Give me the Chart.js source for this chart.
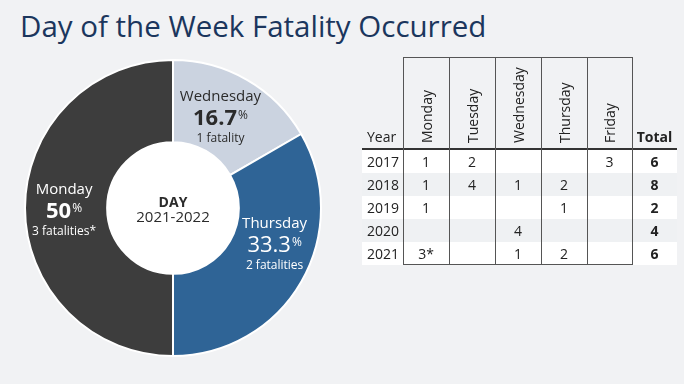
<!DOCTYPE html>
<html><head><meta charset="utf-8">
<script src="https://cdn.jsdelivr.net/npm/chart.js@4.4.1/dist/chart.umd.min.js"></script>
<style>
html,body{margin:0;padding:0;background:#f1f2f4;width:684px;height:384px;overflow:hidden;font-family:'Open Sans',sans-serif;}
#title{position:absolute;left:20px;top:11.5px;margin:0;font-size:29.5px;line-height:28px;font-weight:400;color:#1b365d;white-space:nowrap;}
#pie{position:absolute;left:24px;top:59px;}
#tbl{position:absolute;left:0;top:0;width:684px;height:384px;font-size:14px;color:#222;}
#tbl div{position:absolute;box-sizing:border-box;}
.rot{writing-mode:vertical-rl;transform:rotate(180deg);text-align:start;line-height:20px;white-space:nowrap;}
.cell{line-height:23px;height:23px;white-space:nowrap;}
</style></head>
<body>
<h1 id="title">Day of the Week Fatality Occurred</h1>
<canvas id="pie" width="298" height="298"></canvas>
<div id="tbl"></div>
<script>
// ---- doughnut data ----
const sliceDays = ['Wednesday', 'Thursday', 'Monday'];
const sliceFatalities = [1, 2, 3];
const sliceCountText = ['1 fatality', '2 fatalities', '3 fatalities*'];
const centerTitle = 'DAY';
const centerSub = '2021-2022';

// ---- table data ----
const tableYears = ['2017', '2018', '2019', '2020', '2021'];
const tableDays = ['Monday', 'Tuesday', 'Wednesday', 'Thursday', 'Friday'];
const tableValues = [
  ['1', '2', '', '', '3'],
  ['1', '4', '1', '2', ''],
  ['1', '', '', '1', ''],
  ['', '', '4', '', ''],
  ['3*', '', '1', '2', '']
];
const tableTotals = ['6', '8', '2', '4', '6'];

// ---- styles ----
const sliceColors = ['#cbd3e0', '#2f6496', '#3d3d3d'];
const sliceTextColors = ['#2b2b2b', '#ffffff', '#ffffff'];
const slicePctWeights = ['700', '400', '700'];
const sliceNudge = [[-6, 10], [9, -9], [-2, 10]];

const total = sliceFatalities.reduce((a, b) => a + b, 0);
function pctText(v) {
  let s = (v / total * 100).toFixed(1);
  if (s.endsWith('.0')) s = s.slice(0, -2);
  return s;
}

const centerPlugin = {
  id: 'centerDisc',
  beforeDatasetsDraw(chart) {
    const arc = chart.getDatasetMeta(0).data[0];
    if (!arc) return;
    const c = chart.ctx;
    c.save();
    c.beginPath();
    c.arc(arc.x, arc.y, arc.innerRadius, 0, Math.PI * 2);
    c.fillStyle = '#ffffff';
    c.fill();
    c.restore();
  },
  afterDatasetsDraw(chart) {
    const meta = chart.getDatasetMeta(0);
    const arc0 = meta.data[0];
    const c = chart.ctx;
    c.save();
    c.textAlign = 'center';
    c.textBaseline = 'alphabetic';
    c.fillStyle = '#2b2b2b';
    c.font = "700 14px 'Open Sans'";
    c.fillText(centerTitle, arc0.x, arc0.y - 1);
    c.font = "400 15px 'Open Sans'";
    c.fillText(centerSub, arc0.x, arc0.y + 14);

    meta.data.forEach((arc, i) => {
      const p = arc.getCenterPoint();
      const ax = p.x + sliceNudge[i][0];
      const ay = p.y + sliceNudge[i][1];
      c.fillStyle = sliceTextColors[i];
      c.textAlign = 'center';
      c.font = "400 15px 'Open Sans'";
      c.fillText(sliceDays[i], ax, ay - 24.5);
      const num = pctText(sliceFatalities[i]);
      c.font = slicePctWeights[i] + " 22px 'Open Sans'";
      const nw = c.measureText(num).width;
      c.font = "400 12px 'Open Sans'";
      const pw = c.measureText('%').width;
      const sx = ax - (nw + pw + 1) / 2;
      c.textAlign = 'left';
      c.font = slicePctWeights[i] + " 22px 'Open Sans'";
      c.fillText(num, sx, ay);
      c.font = "400 12px 'Open Sans'";
      c.fillText('%', sx + nw + 1, ay - 6);
      c.textAlign = 'center';
      c.fillText(sliceCountText[i], ax, ay + 16.5);
    });
    c.restore();
  }
};

new Chart(document.getElementById('pie'), {
  type: 'doughnut',
  data: {
    labels: sliceDays,
    datasets: [{
      data: sliceFatalities,
      backgroundColor: sliceColors,
      borderColor: '#ffffff',
      borderWidth: 2,
      hoverOffset: 0
    }]
  },
  options: {
    responsive: false,
    animation: false,
    events: [],
    cutout: '44.5%',
    rotation: 0,
    layout: { padding: 0 },
    plugins: { legend: { display: false }, tooltip: { enabled: false } }
  },
  plugins: [centerPlugin]
});

// ---- table ----
const tbl = document.getElementById('tbl');
const colX = [362, 403, 449, 495, 541, 587, 632, 677];
const headTop = 57, headBottom = 149, rowH = 23;
function add(style, text, cls) {
  const d = document.createElement('div');
  if (cls) d.className = cls;
  Object.assign(d.style, style);
  if (text !== undefined) d.textContent = text;
  tbl.appendChild(d);
  return d;
}
// row backgrounds
tableYears.forEach((y, r) => {
  add({ left: colX[0] + 'px', top: (headBottom + 1 + r * rowH) + 'px', width: (colX[7] - colX[0]) + 'px', height: rowH + 'px',
        background: r % 2 === 0 ? '#ffffff' : '#eff1f3' });
});
const bodyBottom = headBottom + 1 + tableYears.length * rowH;
// thick header line
add({ left: colX[0] + 'px', top: (headBottom - 1) + 'px', width: (colX[7] - colX[0]) + 'px', height: '2px', background: '#333' });
// vertical lines
for (let c = 1; c <= 6; c++) {
  add({ left: colX[c] + 'px', top: headTop + 'px', width: '1px', height: (bodyBottom - headTop) + 'px', background: '#555' });
}
// top & bottom lines for day columns
add({ left: colX[1] + 'px', top: headTop + 'px', width: (colX[6] - colX[1] + 1) + 'px', height: '1px', background: '#555' });
add({ left: colX[1] + 'px', top: (bodyBottom - 1) + 'px', width: (colX[6] - colX[1] + 1) + 'px', height: '1px', background: '#555' });
// header labels
add({ left: '367px', top: (headBottom - 24) + 'px', lineHeight: '23px' }, 'Year');
add({ left: colX[6] + 'px', width: (colX[7] - colX[6]) + 'px', top: (headBottom - 24) + 'px', lineHeight: '23px', textAlign: 'center', fontWeight: '700' }, 'Total');
tableDays.forEach((d, i) => {
  const cx = (colX[i + 1] + colX[i + 2]) / 2 + 0.5;
  add({ left: (cx - 10) + 'px', top: (headTop + 4) + 'px', height: (headBottom - 6 - headTop - 4) + 'px', width: '20px' }, d, 'rot');
});
// body
tableYears.forEach((y, r) => {
  const top = headBottom + 1 + r * rowH;
  add({ left: '367px', top: top + 'px' }, y, 'cell');
  tableValues[r].forEach((v, c) => {
    add({ left: colX[c + 1] + 'px', width: (colX[c + 2] - colX[c + 1]) + 'px', top: top + 'px', textAlign: 'center' }, v, 'cell');
  });
  add({ left: colX[6] + 'px', width: (colX[7] - colX[6]) + 'px', top: top + 'px', textAlign: 'center', fontWeight: '700' }, tableTotals[r], 'cell');
});
</script>
</body></html>
